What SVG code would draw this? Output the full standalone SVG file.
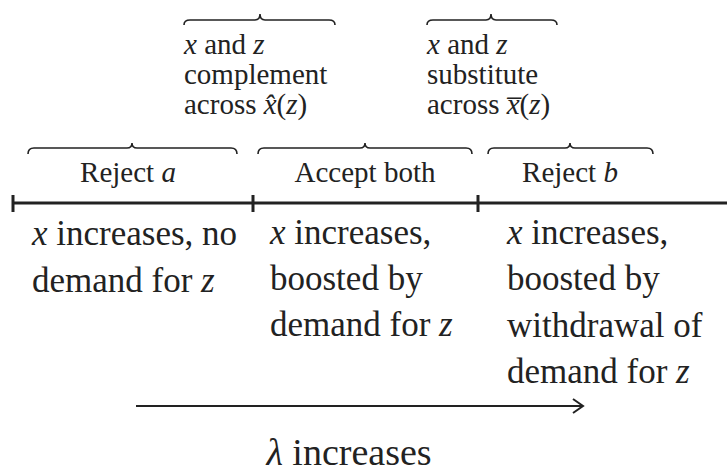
<svg xmlns="http://www.w3.org/2000/svg" width="727" height="472" viewBox="0 0 727 472" font-family="Liberation Serif, DejaVu Serif, serif">
<style>
text{font-family:'Liberation Serif','DejaVu Serif',serif;fill:#222}
.t{font-size:29px}
.m{font-size:29px}
.b{font-size:35px}
.l{font-size:38px}
.i{font-style:italic}
.br{fill:none;stroke:#222;stroke-width:1.6}
.ax{fill:none;stroke:#222;stroke-width:3}
</style>
<defs>
<marker id="ah" markerWidth="14" markerHeight="16" refX="12" refY="8" orient="auto" markerUnits="userSpaceOnUse">
<path d="M2,1 L12,8 L2,15" fill="none" stroke="#222" stroke-width="2"/>
</marker>
</defs>
<g id="top-left">
<path class="br" d="M184,25 Q184,20 190,20 L255,20 Q260,20 260,14 Q260,20 265,20 L329,20 Q335,20 335,25"/>
<text class="t" x="184" y="54"><tspan class="i">x</tspan> and <tspan class="i">z</tspan></text>
<text class="t" x="184" y="84">complement</text>
<text class="t" x="184" y="114">across <tspan class="i">x̂</tspan>(<tspan class="i">z</tspan>)</text>
</g>
<g id="top-right">
<path class="br" d="M427,25 Q427,20 433,20 L486,20 Q491,20 491,14 Q491,20 496,20 L551,20 Q557,20 557,25"/>
<text class="t" x="427" y="54"><tspan class="i">x</tspan> and <tspan class="i">z</tspan></text>
<text class="t" x="427" y="84">substitute</text>
<text class="t" x="427" y="114">across <tspan class="i">x̅</tspan>(<tspan class="i">z</tspan>)</text>
</g>
<g id="reject-a">
<path class="br" d="M28,154 Q28,148 34,148 L127,148 Q132,148 132,143 Q132,148 137,148 L231,148 Q237,148 237,154"/>
<text class="m" x="128" y="182" text-anchor="middle">Reject <tspan class="i">a</tspan></text>
</g>
<g id="accept-both">
<path class="br" d="M258,154 Q258,148 264,148 L360,148 Q365,148 365,143 Q365,148 370,148 L466,148 Q472,148 472,154"/>
<text class="m" x="365" y="182" text-anchor="middle">Accept both</text>
</g>
<g id="reject-b">
<path class="br" d="M488,154 Q488,148 494,148 L565,148 Q570,148 570,143 Q570,148 575,148 L647,148 Q653,148 653,154"/>
<text class="m" x="570" y="182" text-anchor="middle">Reject <tspan class="i">b</tspan></text>
</g>
<g id="axis">
<path class="ax" d="M13,203 L727,203"/>
<path class="ax" d="M13,195 L13,212 M253,195 L253,212 M478,195 L478,212"/>
</g>
<g id="region-1">
<text class="b" x="32" y="245"><tspan class="i">x</tspan> increases, no</text>
<text class="b" x="32" y="292">demand for <tspan class="i">z</tspan></text>
</g>
<g id="region-2">
<text class="b" x="270" y="244"><tspan class="i">x</tspan> increases,</text>
<text class="b" x="270" y="290">boosted by</text>
<text class="b" x="270" y="336">demand for <tspan class="i">z</tspan></text>
</g>
<g id="region-3">
<text class="b" x="507" y="244"><tspan class="i">x</tspan> increases,</text>
<text class="b" x="507" y="290">boosted by</text>
<text class="b" x="507" y="337">withdrawal of</text>
<text class="b" x="507" y="383">demand for <tspan class="i">z</tspan></text>
</g>
<g id="connectors">
<path d="M136,406 L583,406" fill="none" stroke="#222" stroke-width="2" marker-end="url(#ah)"/>
</g>
<g id="lambda-label">
<text class="l" x="349" y="465" text-anchor="middle"><tspan class="i">λ</tspan> increases</text>
</g>
</svg>
